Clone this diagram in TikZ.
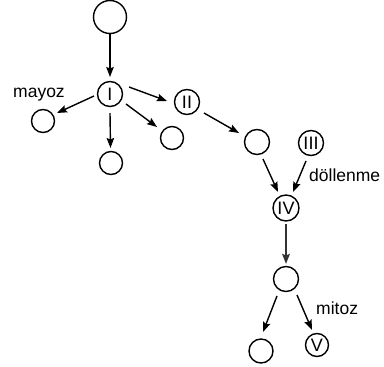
\documentclass[tikz,border=0pt]{standalone}
\usepackage{fontspec}
\setmainfont{Liberation Sans}
\usetikzlibrary{arrows.meta}
\begin{document}
\begin{tikzpicture}[x=1pt,y=-1pt,
  cell/.style={draw, circle, line width=1.4pt, inner sep=0pt, minimum size=#1, font=\fontsize{18}{18}\selectfont},
  cell/.default=24pt,
  arr/.style={line width=1.4pt, -{Stealth[length=10pt,width=7.5pt,inset=1.5pt]}},
  lbl/.style={anchor=base west, inner sep=0pt, font=\fontsize{17.5}{17.5}\selectfont}]
\useasboundingbox (0,0) rectangle (384,367);
\node[cell=33pt] (top) at (110,17) {};
\node[cell=25pt] (I) at (110,94) {I};
\node[cell=23pt] (L) at (43,121) {};
\node[cell=23pt] (B) at (111,163) {};
\node[cell=23pt] (R) at (172,138) {};
\node[cell=25pt] (II) at (187,102) {II};
\node[cell=25pt] (M) at (257,142) {};
\node[cell=25pt] (III) at (311,143) {III};
\node[cell=26pt] (IV) at (286,208) {IV};
\node[cell=25pt] (N) at (286,279) {};
\node[cell=24pt] (BL) at (261,351) {};
\node[cell=23pt] (V) at (317,345) {V};
\node[lbl] (mayoz) at (13,97.3) {mayoz};
\node[lbl] (dol) at (309,181.7) {döllenme};
\node[lbl] (mitoz) at (316,314.7) {mitoz};
\draw[arr] ([shift={(0,17)}]top.center) -- ([shift={(0,-17)}]I.center);
\draw[arr] ([shift={(-16,2)}]I.center) -- ([shift={(14,-8)}]L.center);
\draw[arr] ([shift={(0,19)}]I.center) -- ([shift={(-0.5,-15)}]B.center);
\draw[arr] ([shift={(16,10)}]I.center) -- ([shift={(-15,-11)}]R.center);
\draw[arr] ([shift={(19,-7)}]I.center) -- ([shift={(-20,-1)}]II.center);
\draw[arr] ([shift={(17,11)}]II.center) -- ([shift={(-18,-9)}]M.center);
\draw[arr] ([shift={(6,17)}]M.center) -- ([shift={(-8,-16)}]IV.center);
\draw[arr] ([shift={(-5,18)}]III.center) -- ([shift={(7,-16)}]IV.center);
\draw[arr, line width=2.6pt, black!80] ([shift={(0,16)}]IV.center) -- ([shift={(0,-15)}]N.center);
\draw[arr] ([shift={(-9,17)}]N.center) -- ([shift={(2,-19)}]BL.center);
\draw[arr] ([shift={(11,16)}]N.center) -- ([shift={(-5,-15)}]V.center);
\end{tikzpicture}
\end{document}
